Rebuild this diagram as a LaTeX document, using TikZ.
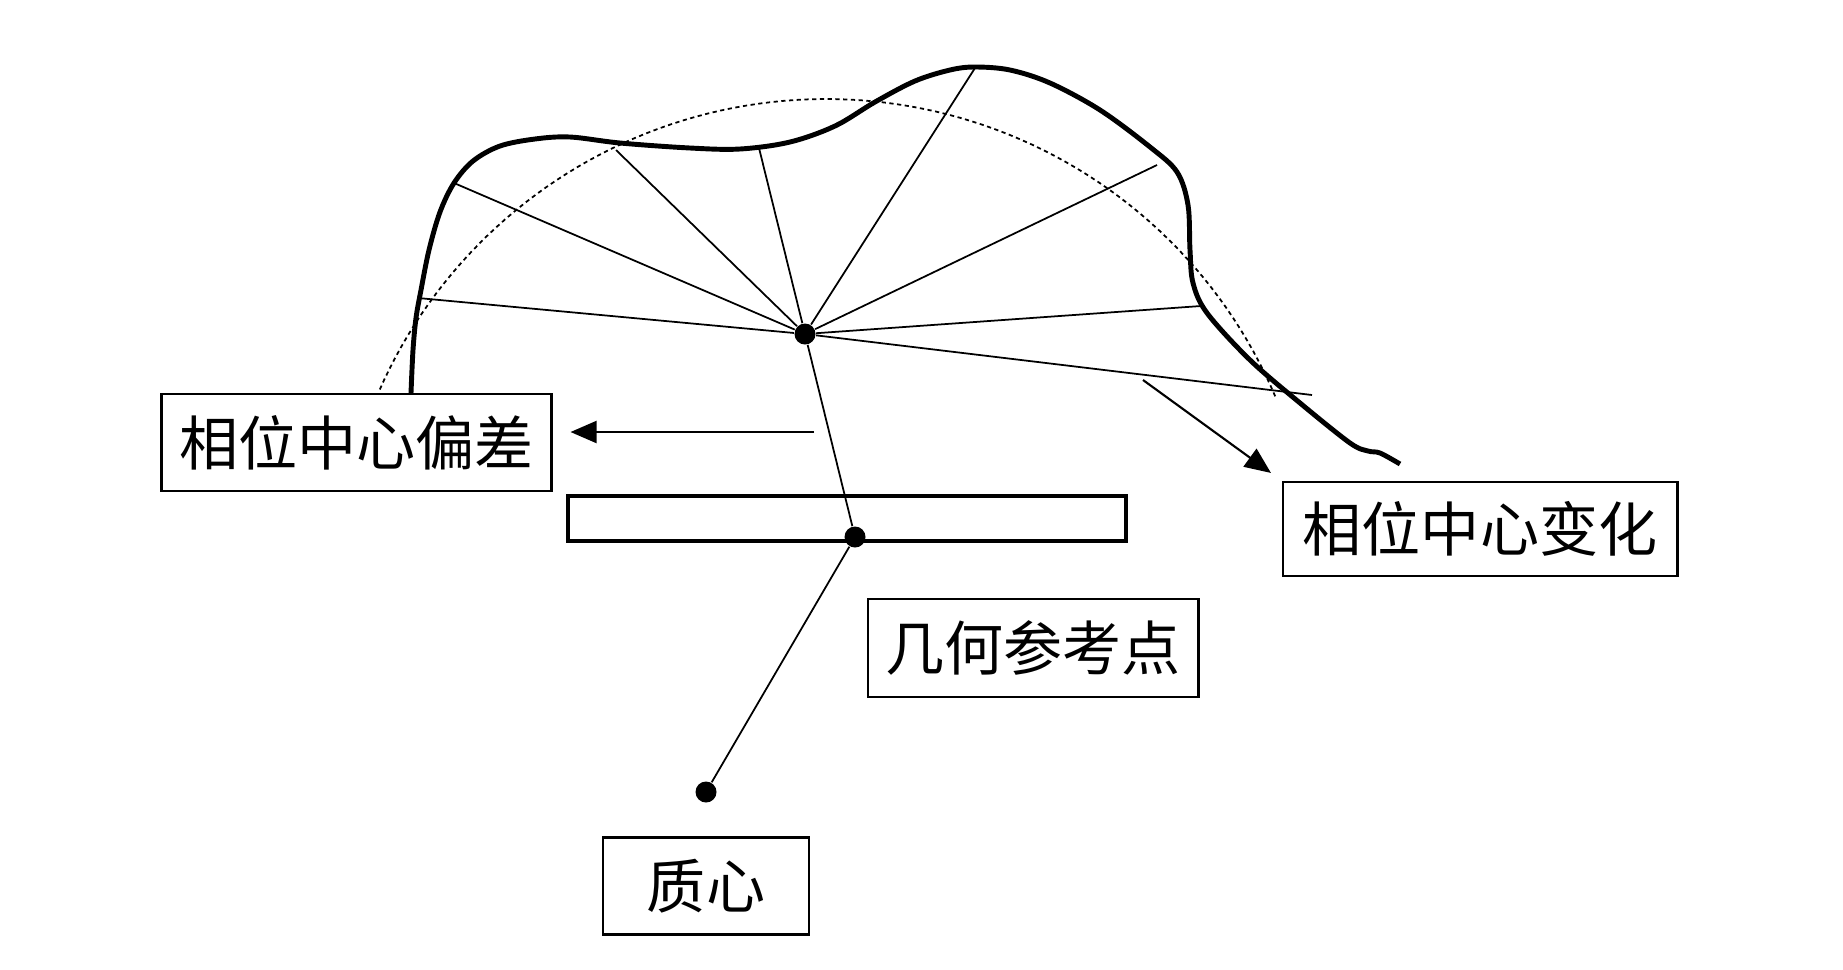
\documentclass[tikz,border=0pt]{standalone}
\usepackage{fontspec}
\newfontfamily\cjk{Noto Sans CJK SC}
\usetikzlibrary{arrows.meta, positioning}
\tikzset{
  lblbox/.style ={rectangle, draw=black, line width=0.8pt, inner sep=0pt, minimum height=0.97cm,
                  font=\cjk\fontsize{16.8pt}{20pt}\selectfont},
  plate/.style  ={rectangle, draw=black, line width=1.1pt, inner sep=0pt},
  dotnode/.style={circle, fill=black, inner sep=0pt, minimum size=2.1mm},
  ray/.style    ={line width=0.5pt},
  patcurve/.style={line width=1.4pt, line join=round},
  refcircle/.style={dash pattern=on 1.2pt off 1pt, line width=0.5pt},
  arr/.style    ={-{Triangle[length=2.6mm, width=2.2mm]}, line width=0.6pt},
}
\begin{document}
\begin{tikzpicture}[x=0.01cm, y=-0.01cm]
  \useasboundingbox (0,0) rectangle (1843,969);
  % reference circle
  \draw[refcircle] plot[domain=23:156.5, samples=90] ({826+488*cos(\x)}, {587-488*sin(\x)});
  % pattern
  \draw[patcurve] plot[smooth, tension=0.55] coordinates {
    (411,393) (413,350) (416,318) (421,290) (429,250) (440,212) (454,183) (473,161)
    (500,146) (535,139) (570,137) (620,143) (690,148) (740,149) (790,142) (835,126)
    (875,102) (915,81) (950,70) (975,67) (1010,70) (1050,83) (1100,110) (1150,147)
    (1177,172) (1188,205) (1190,250) (1193,283) (1207,313) (1250,360) (1300,403)
    (1350,443) (1368,451) (1380,453) (1400,464)};
  % points
  \node[dotnode] (pc) at (805,334) {};
  \node[dotnode] (grp) at (855,537) {};
  \node[dotnode] (cm) at (706,792) {};
  \coordinate (r1) at (418,298);
  \coordinate (r2) at (454,183);
  \coordinate (r3) at (616,150);
  \coordinate (r4) at (759,148);
  \coordinate (r5) at (975,68);
  \coordinate (r6) at (1157,165);
  \coordinate (r7) at (1201,306);
  \coordinate (r8) at (1312,395);
  \foreach \r in {r1,r2,r3,r4,r5,r6,r7,r8}
    \draw[ray] (pc) -- (\r);
  \draw[ray] (pc) -- (grp);
  \draw[ray] (grp) -- (cm);
  % plate
  \node[plate, minimum width=5.58cm, minimum height=0.45cm] (board) at (847,518.5) {};
  % labels
  \node[lblbox, minimum width=3.89cm] (dev) at (356.5,442.5) {相位中心偏差};
  \node[lblbox, minimum width=3.94cm, minimum height=0.94cm] (chg) at (1480,529) {相位中心变化};
  \node[lblbox, minimum width=3.30cm, minimum height=0.98cm] (geo) at (1033,648) {几何参考点};
  \node[lblbox, minimum width=2.06cm, below=0.33cm of cm] (mass) {质心};
  % arrows
  \coordinate (a1) at (814,432);
  \coordinate (a2) at (1143,380);
  \draw[arr, shorten >=0.18cm] (a1) -- (dev.east |- a1);
  \draw[arr, shorten >=0.13cm] (a2) -- (chg.north west);
\end{tikzpicture}
\end{document}
